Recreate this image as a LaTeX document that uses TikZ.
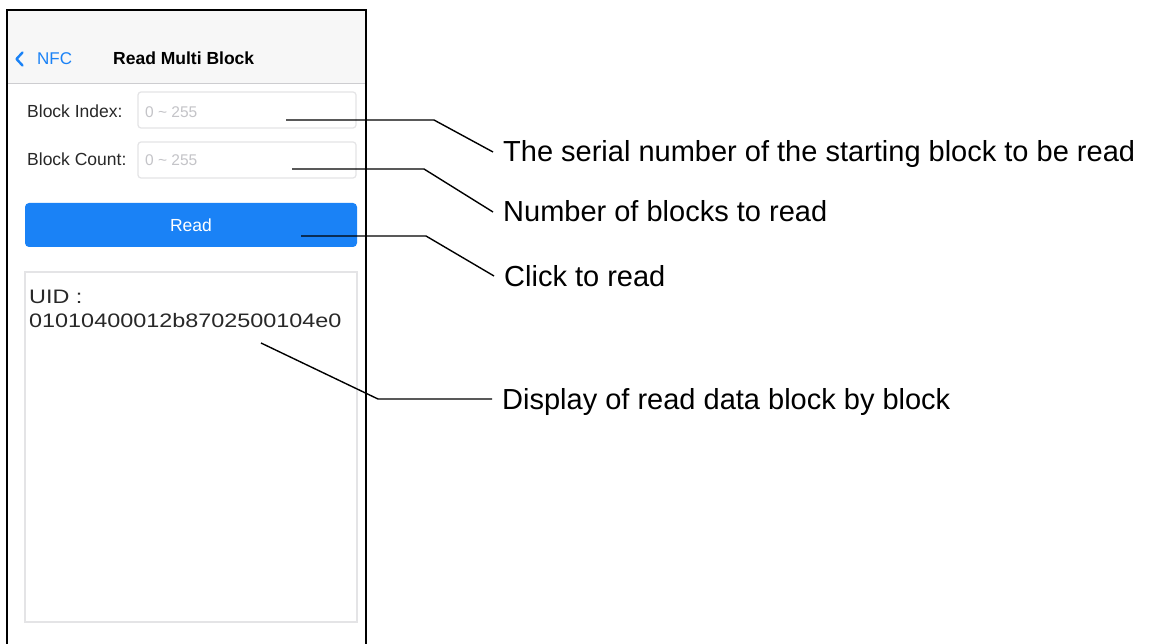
\documentclass[tikz,border=0pt]{standalone}
\usepackage{fontspec}
\setmainfont{Liberation Sans}
\newfontfamily\hexfont[FakeStretch=1.2]{Liberation Sans}
\usetikzlibrary{calc}
\definecolor{iosblue}{RGB}{26,130,246}
\definecolor{navbg}{RGB}{247,247,247}
\definecolor{sepgray}{RGB}{205,205,208}
\definecolor{fieldgray}{RGB}{228,228,230}
\definecolor{phgray}{RGB}{196,196,200}
\definecolor{uitext}{RGB}{40,40,40}
\tikzset{
  lab/.style={anchor=base west, inner xsep=10pt, inner ysep=0pt, text height=20pt, text depth=0pt,
    font=\fontsize{29}{34}\selectfont},
  leader/.style={line width=1.4pt, black},
  uilab/.style={anchor=base west, inner sep=0pt, text=uitext, font=\fontsize{17.5}{20}\selectfont},
  phtext/.style={anchor=base west, inner sep=0pt, text=phgray, font=\fontsize{15.5}{18}\selectfont},
  field/.style={draw=fieldgray, line width=1.2pt, fill=white, rounded corners=3pt, inner sep=0pt},
  btn/.style={fill=iosblue, rounded corners=4pt, inner sep=0pt, text=white, font=\fontsize{17.5}{20}\selectfont},
  resbox/.style={draw=fieldgray, line width=1.5pt, fill=white, inner sep=0pt},
  hex/.style={anchor=base west, inner sep=0pt, text=uitext, font=\hexfont\fontsize{19.5}{22}\selectfont},
}
\begin{document}
\begin{tikzpicture}[x=1pt,y=-1pt]
\useasboundingbox (0,0) rectangle (1153,644);
% phone content
\fill[white] (7,10) rectangle (366,644);
\fill[navbg] (8,11) rectangle (365,83);
\draw[sepgray, line width=1pt] (8,83.5) -- (365,83.5);
% nav bar
\draw[iosblue, line width=2.4pt, line cap=round, line join=round] (22.5,52.5) -- (16.5,59) -- (22.5,65.5);
\node[anchor=base west, inner sep=0pt, text=iosblue, font=\fontsize{17}{20}\selectfont] (nfc) at (37,65) {NFC};
\node[anchor=base west, inner sep=0pt, text=black, font=\bfseries\fontsize{17.5}{20}\selectfont] (title) at (113,65) {Read Multi Block};
% fields
\node[field, minimum width=218pt, minimum height=36pt] (fidx) at (247,110) {};
\node[field, minimum width=218pt, minimum height=36pt] (fcnt) at (247,160) {};
\node[uilab] (lidx) at (27,118) {Block Index:};
\node[uilab] (lcnt) at (27,166) {Block Count:};
\node[phtext] (pidx) at (145,118) {0 \textasciitilde\ 255};
\node[phtext] (pcnt) at (145,166) {0 \textasciitilde\ 255};
% button
\node[btn, minimum width=332pt, minimum height=44pt] (rbtn) at (191,225) {Read};
% result box
\node[resbox, minimum width=332pt, minimum height=350pt] (res) at (191,447) {};
\node[hex] (uid) at (29,303) {UID :};
\node[hex] (uidv) at (29,327) {01010400012b8702500104e0};
% frame
\draw[line width=2pt, black] (7,645) -- (7,10) -- (366,10) -- (366,645);
% callouts
\coordinate (a1) at (286,120);
\coordinate (a2) at (292,169);
\coordinate (a3) at (301,236);
\coordinate (a4) at (261,343);
\node[lab] (t1) at (493,162) {The serial number of the starting block to be read};
\node[lab] (t2) at (493,222) {Number of blocks to read};
\node[lab] (t3) at (494,286) {Click to read};
\node[lab] (t4) at (492,409) {Display of read data block by block};
\draw[leader] (a1) -- ++(148,0) -- (t1.west);
\draw[leader] (a2) -- ++(132,0) -- (t2.west);
\draw[leader] (a3) -- ++(125,0) -- (t3.west);
\draw[leader] (a4) -- ($(t4.west)+(-114,0)$) -- (t4.west);
\end{tikzpicture}
\end{document}
